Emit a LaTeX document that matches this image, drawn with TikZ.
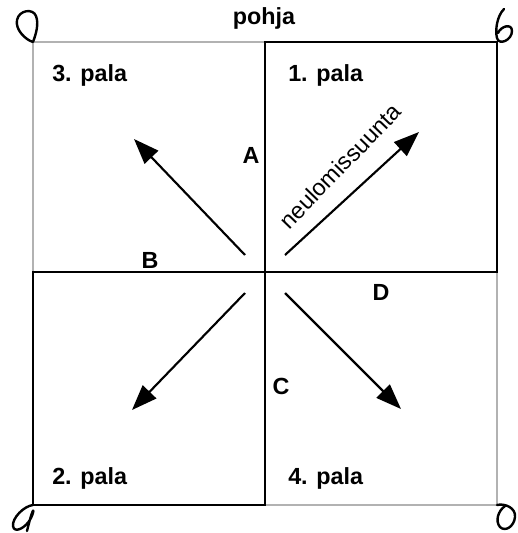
\documentclass[tikz,border=0pt]{standalone}
\usepackage{fontspec}
\setmainfont{Liberation Sans}
\usetikzlibrary{arrows.meta}
\tikzset{lbl/.style={font=\bfseries\fontsize{17.5}{20}\selectfont,inner sep=0pt},
  seam/.style={line width=1.7pt,line cap=rect},faint/.style={draw=black!30,line width=0.9pt},
  arr/.style={-{Triangle[length=19pt,width=14pt]},line width=1.6pt},
  curl/.style={line width=1.8pt,line cap=round,line join=round}}

\begin{document}
\begin{tikzpicture}[x=0.75pt,y=-0.75pt]
\useasboundingbox (0,0) rectangle (518,533);
% pohja and pieces
\draw[faint] (33,272)--(33,42)--(265,42);\draw[faint] (265,505)--(497,505)--(497,272);
\draw[seam] (265,42)--(497,42)--(497,272)--(33,272)--(33,505)--(265,505)--cycle;
\draw[seam] (265,42)--(265,505);
\node[lbl] (pohja) at (264,18) {pohja};
\node[lbl,anchor=west] (p3) at (52,75) {3. pala};\node[lbl,anchor=west] (p1) at (288,75) {1. pala};
\node[lbl,anchor=west] (p2) at (52,478) {2. pala};\node[lbl,anchor=west] (p4) at (288,478) {4. pala};
\node[lbl] (A) at (251,155) {A};\node[lbl] (B) at (150,260) {B};
\node[lbl] (C) at (281,386) {C};\node[lbl] (D) at (381,292) {D};
% knitting directions
\coordinate (c1) at (285,255);\coordinate (t1) at (419,132);
\coordinate (c3) at (245,255);\coordinate (t3) at (134,139);
\coordinate (c2) at (245,293);\coordinate (t2) at (132,410);
\coordinate (c4) at (285,293);\coordinate (t4) at (401,409);
\draw[arr] (c1)--(t1);\draw[arr] (c3)--(t3);\draw[arr] (c2)--(t2);\draw[arr] (c4)--(t4);
\node[rotate=46,font=\fontsize{17.5}{20}\selectfont,inner sep=0pt] (suunta) at (340,166) {neulomissuunta};
% corner yarn ends
\draw[curl] (33,42) .. controls (26,40) and (15,30) .. (17,20) .. controls (19,10) and (33,8) .. (36,16) .. controls (39,24) and (36,34) .. (33,42);
\draw[curl] (504,9) .. controls (497,16) and (495,30) .. (497,38) .. controls (499,46) and (512,40) .. (512,31) .. controls (512,23) and (501,26) .. (498,33);
\draw[curl] (33,505) .. controls (24,506) and (12,518) .. (13,526) .. controls (14,534) and (26,528) .. (31,518) .. controls (35,510) and (34,502) .. (27,531);
\draw[curl] (497,505) .. controls (505,503) and (516,508) .. (515,517) .. controls (514,527) and (505,532) .. (500,527) .. controls (495,521) and (498,511) .. (505,506);
\end{tikzpicture}
\end{document}
